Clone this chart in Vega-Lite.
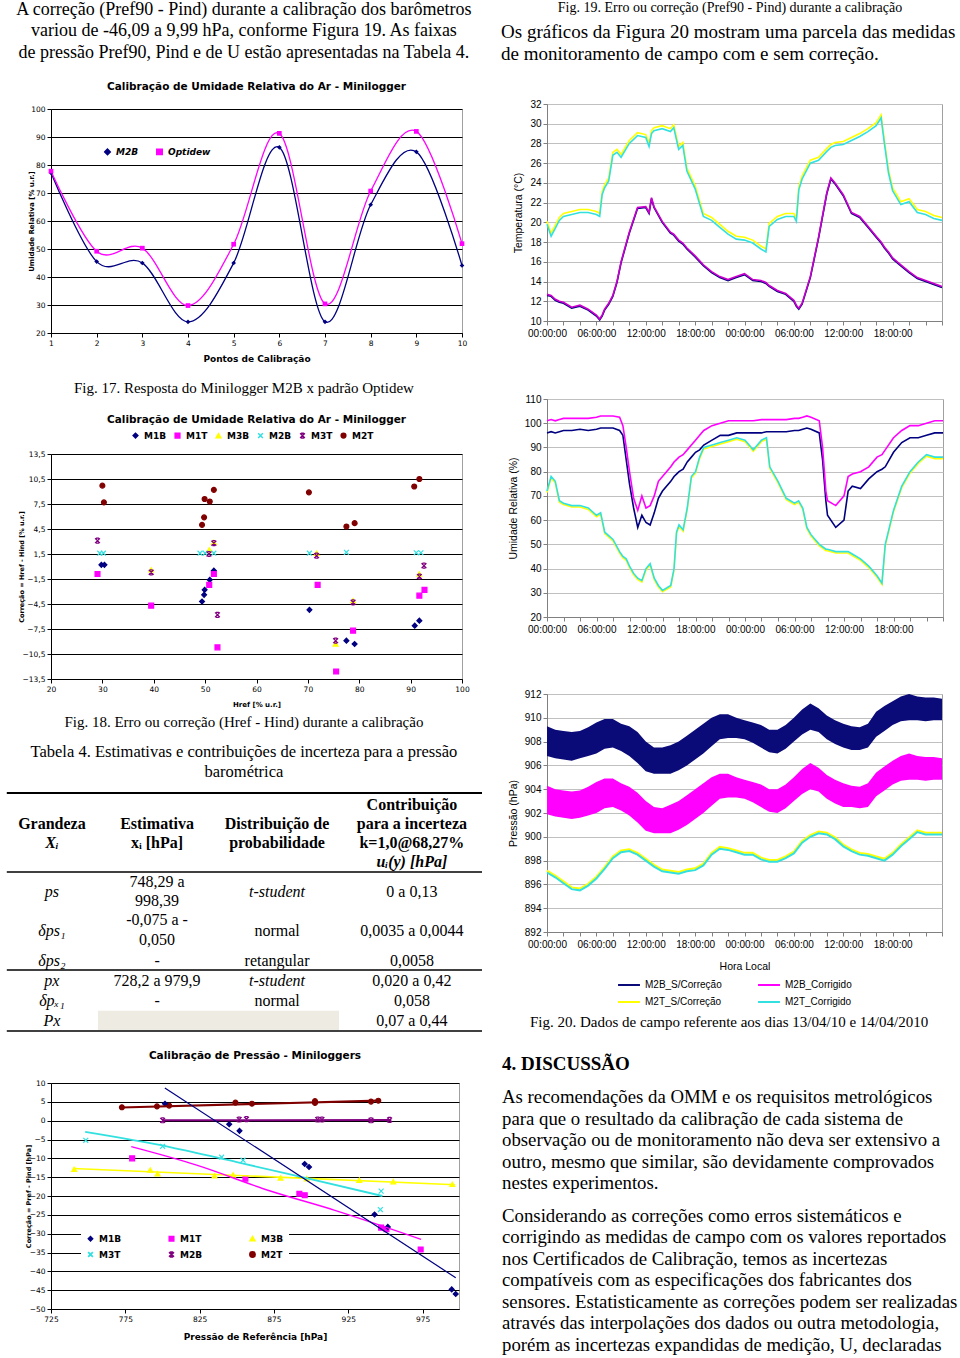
{
"$schema": "https://vega.github.io/schema/vega-lite/v6.json",
"padding": {"left": 5, "top": 0, "right": 0, "bottom": 0},
"background": "white",
"config": {"view": {"stroke": null}, "concat": {"spacing": 0}},
"spacing": 18,
"resolve": {"scale": {"color": "independent", "fill": "independent", "stroke": "independent", "shape": "independent", "strokeWidth": "independent", "size": "independent"}, "legend": {"color": "independent", "fill": "independent", "stroke": "independent", "shape": "independent", "strokeWidth": "independent", "size": "independent"}},
"hconcat": [
{"vconcat": [
 {"width": 431, "height": 109,
  "data": {"values": [
   {"line": 0, "text": "A correção (Pref90 - Pind) durante a calibração dos barômetros"},
   {"line": 1, "text": "variou de -46,09 a 9,99 hPa, conforme Figura 19. As faixas"},
   {"line": 2, "text": "de pressão Pref90, Pind e de U estão apresentadas na Tabela 4."}]},
  "mark": {"type": "text", "font": "Liberation Serif", "fontSize": 18, "align": "center", "baseline": "middle", "color": "#000"},
  "encoding": {
   "x": {"datum": 0.504, "type": "quantitative", "scale": {"domain": [0.1021, 1], "nice": false, "zero": false}, "axis": null},
   "y": {"field": "line", "type": "quantitative", "scale": {"domain": [-0.465, 4.605], "reverse": true, "nice": false, "zero": false}, "axis": null},
   "text": {"field": "text"}}},
 {"width": 411, "height": 224,
  "title": {"text": "Calibração de Umidade Relativa do Ar - Minilogger", "font": "DejaVu Sans", "fontSize": 10.5, "fontWeight": "bold", "offset": 13, "color": "#000"},
  "view": {"stroke": "#a0a0a0"},
  "data": {"values": [
   {"p": 1, "serie": "M2B", "v": 77.2}, {"p": 2, "serie": "M2B", "v": 45.5}, {"p": 3, "serie": "M2B", "v": 45.0}, {"p": 4, "serie": "M2B", "v": 24.0}, {"p": 5, "serie": "M2B", "v": 45.0},
   {"p": 6, "serie": "M2B", "v": 86.3}, {"p": 7, "serie": "M2B", "v": 24.0}, {"p": 8, "serie": "M2B", "v": 65.8}, {"p": 9, "serie": "M2B", "v": 84.7}, {"p": 10, "serie": "M2B", "v": 44.1},
   {"p": 1, "serie": "Optidew", "v": 77.8}, {"p": 2, "serie": "Optidew", "v": 49.2}, {"p": 3, "serie": "Optidew", "v": 50.3}, {"p": 4, "serie": "Optidew", "v": 29.8}, {"p": 5, "serie": "Optidew", "v": 51.7},
   {"p": 6, "serie": "Optidew", "v": 91.3}, {"p": 7, "serie": "Optidew", "v": 30.4}, {"p": 8, "serie": "Optidew", "v": 70.7}, {"p": 9, "serie": "Optidew", "v": 92.0}, {"p": 10, "serie": "Optidew", "v": 51.9}]},
  "encoding": {
   "x": {"field": "p", "type": "quantitative", "scale": {"domain": [1, 10], "nice": false, "zero": false},
    "axis": {"values": [1,2,3,4,5,6,7,8,9,10], "grid": false, "title": "Pontos de Calibração", "labelFont": "DejaVu Sans", "labelFontSize": 7.5, "labelColor": "#000", "labelFlush": false, "tickSize": 4, "tickColor": "#000", "domainColor": "#000", "titleFont": "DejaVu Sans", "titleFontSize": 9, "titleFontWeight": "bold", "titleColor": "#000", "titlePadding": 8}},
   "y": {"field": "v", "type": "quantitative", "scale": {"domain": [20, 100], "nice": false, "zero": false},
    "axis": {"values": [20,30,40,50,60,70,80,90,100], "grid": true, "gridColor": "#000", "gridOpacity": 1, "title": "Umidade Relativa [% u.r.]", "labelFont": "DejaVu Sans", "labelFontSize": 7.5, "labelColor": "#000", "tickSize": 4, "tickColor": "#000", "domainColor": "#000", "titleFont": "DejaVu Sans", "titleFontSize": 7, "titleColor": "#000", "titlePadding": -4}},
   "color": {"field": "serie", "type": "nominal", "scale": {"domain": ["M2B", "Optidew"], "range": ["#000080", "#ff00ff"]},
    "legend": {"orient": "none", "legendX": 52, "legendY": 38, "direction": "horizontal", "title": null, "labelFont": "DejaVu Sans", "labelFontSize": 9, "labelFontStyle": "italic", "labelFontWeight": "bold", "labelColor": "#000", "symbolSize": 30, "columnPadding": 14}}},
  "layer": [
   {"mark": {"type": "line", "interpolate": "cardinal", "strokeWidth": 1.3}},
   {"mark": {"type": "point", "filled": true, "opacity": 1, "size": 22},
    "encoding": {"shape": {"field": "serie", "type": "nominal", "scale": {"domain": ["M2B", "Optidew"], "range": ["diamond", "square"]},
     "legend": {"orient": "none", "legendX": 52, "legendY": 38, "direction": "horizontal", "title": null, "labelFont": "DejaVu Sans", "labelFontSize": 9, "labelFontStyle": "italic", "labelFontWeight": "bold", "labelColor": "#000", "symbolSize": 30, "columnPadding": 14}}}}]},
 {"width": 431, "height": 121,
  "data": {"values": [{"line": 0, "text": "Fig. 17. Resposta do Minilogger M2B x padrão Optidew"}]},
  "mark": {"type": "text", "font": "Liberation Serif", "fontSize": 15, "align": "center", "baseline": "middle", "color": "#000"},
  "encoding": {
   "x": {"datum": 0.504, "type": "quantitative", "scale": {"domain": [0.1021, 1], "nice": false, "zero": false}, "axis": null},
   "y": {"field": "line", "type": "quantitative", "scale": {"domain": [-2.558, 3.07], "reverse": true, "nice": false, "zero": false}, "axis": null},
   "text": {"field": "text"}}},
 {"width": 411, "height": 225,
  "title": {"text": "Calibração de Umidade Relativa do Ar - Minilogger", "font": "DejaVu Sans", "fontSize": 10.5, "fontWeight": "bold", "offset": 6, "color": "#000"},
  "view": {"stroke": "#a0a0a0"},
  "data": {"values": [
   {"s": "M1B", "x": 29.8, "y": 0.2}, {"s": "M1B", "x": 30.4, "y": 0.2}, {"s": "M1B", "x": 51.7, "y": -0.5}, {"s": "M1B", "x": 50.9, "y": -1.6}, {"s": "M1B", "x": 49.9, "y": -2.8}, {"s": "M1B", "x": 49.8, "y": -3.4}, {"s": "M1B", "x": 49.4, "y": -4.2}, {"s": "M1B", "x": 70.3, "y": -5.2}, {"s": "M1B", "x": 77.5, "y": -8.9}, {"s": "M1B", "x": 79.1, "y": -9.3}, {"s": "M1B", "x": 90.8, "y": -7.1}, {"s": "M1B", "x": 91.7, "y": -6.5},
   {"s": "M1T", "x": 29.05, "y": -0.9}, {"s": "M1T", "x": 39.5, "y": -4.7}, {"s": "M1T", "x": 51.7, "y": -0.9}, {"s": "M1T", "x": 50.8, "y": -2.2}, {"s": "M1T", "x": 52.4, "y": -9.7}, {"s": "M1T", "x": 71.9, "y": -2.2}, {"s": "M1T", "x": 78.8, "y": -7.7}, {"s": "M1T", "x": 75.5, "y": -12.6}, {"s": "M1T", "x": 91.7, "y": -3.5}, {"s": "M1T", "x": 92.7, "y": -2.8},
   {"s": "M3B", "x": 39.5, "y": -0.4}, {"s": "M3B", "x": 50.8, "y": 2.0}, {"s": "M3B", "x": 51.7, "y": 2.9}, {"s": "M3B", "x": 71.7, "y": 1.6}, {"s": "M3B", "x": 78.8, "y": -4.1}, {"s": "M3B", "x": 75.4, "y": -9.3}, {"s": "M3B", "x": 91.7, "y": -0.9},
   {"s": "M2B", "x": 29.5, "y": 1.6}, {"s": "M2B", "x": 30.2, "y": 1.6}, {"s": "M2B", "x": 49.0, "y": 1.6}, {"s": "M2B", "x": 50.0, "y": 1.6}, {"s": "M2B", "x": 51.7, "y": 1.6}, {"s": "M2B", "x": 70.3, "y": 1.6}, {"s": "M2B", "x": 77.5, "y": 1.7}, {"s": "M2B", "x": 91.1, "y": 1.65}, {"s": "M2B", "x": 92.0, "y": 1.65},
   {"s": "M3T", "x": 29.05, "y": 3.1}, {"s": "M3T", "x": 39.5, "y": -0.7}, {"s": "M3T", "x": 51.7, "y": 2.8}, {"s": "M3T", "x": 50.75, "y": 1.5}, {"s": "M3T", "x": 52.4, "y": -5.8}, {"s": "M3T", "x": 71.7, "y": 1.3}, {"s": "M3T", "x": 78.8, "y": -4.3}, {"s": "M3T", "x": 75.4, "y": -8.9}, {"s": "M3T", "x": 92.6, "y": 0.1}, {"s": "M3T", "x": 91.7, "y": -1.2},
   {"s": "M2T", "x": 30.0, "y": 9.7}, {"s": "M2T", "x": 30.3, "y": 7.7}, {"s": "M2T", "x": 49.9, "y": 8.1}, {"s": "M2T", "x": 50.9, "y": 7.8}, {"s": "M2T", "x": 51.7, "y": 9.2}, {"s": "M2T", "x": 49.8, "y": 5.9}, {"s": "M2T", "x": 49.4, "y": 5.0}, {"s": "M2T", "x": 70.2, "y": 8.9}, {"s": "M2T", "x": 77.5, "y": 4.8}, {"s": "M2T", "x": 79.1, "y": 5.2}, {"s": "M2T", "x": 90.7, "y": 9.6}, {"s": "M2T", "x": 91.7, "y": 10.5}]},
  "mark": {"type": "point", "opacity": 1, "size": 24, "strokeWidth": 1.2},
  "encoding": {
   "x": {"field": "x", "type": "quantitative", "scale": {"domain": [20, 100], "nice": false, "zero": false},
    "axis": {"values": [20,30,40,50,60,70,80,90,100], "grid": false, "title": "Href [% u.r.]", "labelFont": "DejaVu Sans", "labelFontSize": 7.5, "labelColor": "#000", "labelFlush": false, "tickSize": 4, "tickColor": "#000", "domainColor": "#000", "titleFont": "DejaVu Sans", "titleFontSize": 7, "titleFontWeight": "bold", "titleColor": "#000", "titlePadding": 8}},
   "y": {"field": "y", "type": "quantitative", "scale": {"domain": [-13.5, 13.5], "nice": false, "zero": false},
    "axis": {"values": [-13.5,-10.5,-7.5,-4.5,-1.5,1.5,4.5,7.5,10.5,13.5], "labelExpr": "replace(format(datum.value, '.1f'), '.', ',')", "grid": true, "gridColor": "#000", "gridOpacity": 1, "title": "Correção = Href - Hind [% u.r.]", "labelFont": "DejaVu Sans", "labelFontSize": 7.5, "labelColor": "#000", "tickSize": 4, "tickColor": "#000", "domainColor": "#000", "titleFont": "DejaVu Sans", "titleFontSize": 6.5, "titleColor": "#000", "titlePadding": -2}},
   "fill": {"field": "s", "type": "nominal", "scale": {"domain": ["M1B","M1T","M3B","M2B","M3T","M2T"], "range": ["#000080","#ff00ff","#ffff00","#33e0e0","#800080","#800000"]},
    "legend": {"orient": "none", "legendX": 80, "legendY": -23, "direction": "horizontal", "title": null, "labelFont": "DejaVu Sans", "labelFontSize": 9, "labelFontWeight": "bold", "labelColor": "#000", "symbolSize": 22, "columnPadding": 5}},
   "stroke": {"field": "s", "type": "nominal", "scale": {"domain": ["M1B","M1T","M3B","M2B","M3T","M2T"], "range": ["#000080","#ff00ff","#ffff00","#33e0e0","#800080","#800000"]},
    "legend": {"orient": "none", "legendX": 80, "legendY": -23, "direction": "horizontal", "title": null, "labelFont": "DejaVu Sans", "labelFontSize": 9, "labelFontWeight": "bold", "labelColor": "#000", "symbolSize": 22, "columnPadding": 5}},
   "shape": {"field": "s", "type": "nominal", "scale": {"domain": ["M1B","M1T","M3B","M2B","M3T","M2T"], "range": ["diamond","square","triangle-up","M-1,-1L1,1M1,-1L-1,1","M-1,-1L1,1M1,-1L-1,1M-0.6,-1L0.6,-1M-0.6,1L0.6,1","circle"]},
    "legend": {"orient": "none", "legendX": 80, "legendY": -23, "direction": "horizontal", "title": null, "labelFont": "DejaVu Sans", "labelFontSize": 9, "labelFontWeight": "bold", "labelColor": "#000", "symbolSize": 22, "columnPadding": 5}}}},
 {"width": 431, "height": 111,
  "data": {"values": [
   {"line": 0, "size": 15, "text": "Fig. 18. Erro ou correção (Href - Hind) durante a calibração"},
   {"line": 1.5, "size": 16.5, "text": "Tabela 4. Estimativas e contribuições de incerteza para a pressão"},
   {"line": 2.5, "size": 16.5, "text": "barométrica"}]},
  "mark": {"type": "text", "font": "Liberation Serif", "align": "center", "baseline": "middle", "color": "#000"},
  "encoding": {
   "x": {"datum": 0.504, "type": "quantitative", "scale": {"domain": [0.1021, 1], "nice": false, "zero": false}, "axis": null},
   "y": {"field": "line", "type": "quantitative", "scale": {"domain": [-2.15, 3.4], "reverse": true, "nice": false, "zero": false}, "axis": null},
   "size": {"field": "size", "type": "quantitative", "scale": null, "legend": null},
   "text": {"field": "text"}}},
 {"width": 431, "height": 293,
  "encoding": {
   "x": {"field": "pos", "type": "quantitative", "scale": {"domain": [0.1021, 1], "nice": false, "zero": false}, "axis": null},
   "y": {"field": "line", "type": "quantitative", "scale": {"domain": [0, 15.03], "reverse": true, "nice": false, "zero": false}, "axis": null}},
  "layer": [
   {"data": {"values": [{"pos": 0.2, "pos2": 0.702, "line": 11.33, "line2": 12.31}]},
    "mark": {"type": "rect", "color": "#eeebe2"},
    "encoding": {"x2": {"field": "pos2"}, "y2": {"field": "line2"}}},
   {"data": {"values": [{"pos": 0.01, "pos2": 1, "line": 0.15, "w": 2}, {"pos": 0.01, "pos2": 1, "line": 4.21, "w": 1.5}, {"pos": 0.01, "pos2": 1, "line": 9.23, "w": 1.5}, {"pos": 0.01, "pos2": 1, "line": 12.36, "w": 1.5}]},
    "mark": {"type": "rule", "color": "#000"},
    "encoding": {"x2": {"field": "pos2"}, "strokeWidth": {"field": "w", "type": "quantitative", "scale": null, "legend": null}}},
   {"data": {"name": "tabela", "values": [
     {"s": "h", "pos": 0.854, "line": 0.77, "text": "Contribuição"},
     {"s": "h", "pos": 0.854, "line": 1.74, "text": "para a incerteza"},
     {"s": "h", "pos": 0.854, "line": 2.72, "text": "k=1,0@68,27%"},
     {"s": "hi", "pos": 0.854, "line": 3.69, "text": "uᵢ(y) [hPa]"},
     {"s": "h", "pos": 0.104, "line": 1.74, "text": "Grandeza"},
     {"s": "hi", "pos": 0.104, "line": 2.72, "text": "Xᵢ"},
     {"s": "h", "pos": 0.323, "line": 1.74, "text": "Estimativa"},
     {"s": "h", "pos": 0.323, "line": 2.72, "text": "xᵢ [hPa]"},
     {"s": "h", "pos": 0.573, "line": 1.74, "text": "Distribuição de"},
     {"s": "h", "pos": 0.573, "line": 2.72, "text": "probabilidade"},
     {"s": "i", "pos": 0.104, "line": 5.23, "text": "ps"},
     {"s": "n", "pos": 0.323, "line": 4.72, "text": "748,29 a"},
     {"s": "n", "pos": 0.323, "line": 5.69, "text": "998,39"},
     {"s": "i", "pos": 0.573, "line": 5.23, "text": "t-student"},
     {"s": "n", "pos": 0.854, "line": 5.23, "text": "0 a 0,13"},
     {"s": "i", "pos": 0.104, "line": 7.23, "text": "δps₁"},
     {"s": "n", "pos": 0.323, "line": 6.67, "text": "-0,075 a -"},
     {"s": "n", "pos": 0.323, "line": 7.69, "text": "0,050"},
     {"s": "n", "pos": 0.573, "line": 7.23, "text": "normal"},
     {"s": "n", "pos": 0.854, "line": 7.23, "text": "0,0035 a 0,0044"},
     {"s": "i", "pos": 0.104, "line": 8.77, "text": "δps₂"},
     {"s": "n", "pos": 0.323, "line": 8.77, "text": "-"},
     {"s": "n", "pos": 0.573, "line": 8.77, "text": "retangular"},
     {"s": "n", "pos": 0.854, "line": 8.77, "text": "0,0058"},
     {"s": "i", "pos": 0.104, "line": 9.79, "text": "px"},
     {"s": "n", "pos": 0.323, "line": 9.79, "text": "728,2 a 979,9"},
     {"s": "i", "pos": 0.573, "line": 9.79, "text": "t-student"},
     {"s": "n", "pos": 0.854, "line": 9.79, "text": "0,020 a 0,42"},
     {"s": "i", "pos": 0.104, "line": 10.82, "text": "δpₓ₁"},
     {"s": "n", "pos": 0.323, "line": 10.82, "text": "-"},
     {"s": "n", "pos": 0.573, "line": 10.82, "text": "normal"},
     {"s": "n", "pos": 0.854, "line": 10.82, "text": "0,058"},
     {"s": "i", "pos": 0.104, "line": 11.85, "text": "Px"},
     {"s": "n", "pos": 0.854, "line": 11.85, "text": "0,07 a 0,44"}]},
    "transform": [{"filter": "datum.s == 'h'"}],
    "mark": {"type": "text", "font": "Liberation Serif", "fontSize": 16, "fontWeight": "bold", "align": "center", "baseline": "middle", "color": "#000"},
    "encoding": {"text": {"field": "text"}}},
   {"data": {"name": "tabela"},
    "transform": [{"filter": "datum.s == 'hi'"}],
    "mark": {"type": "text", "font": "Liberation Serif", "fontSize": 16, "fontWeight": "bold", "fontStyle": "italic", "align": "center", "baseline": "middle", "color": "#000"},
    "encoding": {"text": {"field": "text"}}},
   {"data": {"name": "tabela"},
    "transform": [{"filter": "datum.s == 'i'"}],
    "mark": {"type": "text", "font": "Liberation Serif", "fontSize": 16, "fontStyle": "italic", "align": "center", "baseline": "middle", "color": "#000"},
    "encoding": {"text": {"field": "text"}}},
   {"data": {"name": "tabela"},
    "transform": [{"filter": "datum.s == 'n'"}],
    "mark": {"type": "text", "font": "Liberation Serif", "fontSize": 16, "align": "center", "baseline": "middle", "color": "#000"},
    "encoding": {"text": {"field": "text"}}}]},
 {"width": 408, "height": 226,
  "title": {"text": "Calibração de Pressão - Miniloggers", "font": "DejaVu Sans", "fontSize": 10.5, "fontWeight": "bold", "offset": 18, "color": "#000"},
  "view": {"stroke": "#a0a0a0"},
  "encoding": {
   "x": {"field": "x", "type": "quantitative", "scale": {"domain": [725, 999.5], "nice": false, "zero": false},
    "axis": {"values": [725,775,825,875,925,975], "grid": false, "title": "Pressão de Referência [hPa]", "labelFont": "DejaVu Sans", "labelFontSize": 7.5, "labelColor": "#000", "labelFlush": false, "tickSize": 4, "tickColor": "#000", "domainColor": "#000", "titleFont": "DejaVu Sans", "titleFontSize": 9, "titleFontWeight": "bold", "titleColor": "#000", "titlePadding": 10}},
   "y": {"field": "y", "type": "quantitative", "scale": {"domain": [-50, 10], "nice": false, "zero": false},
    "axis": {"values": [-50,-45,-40,-35,-30,-25,-20,-15,-10,-5,0,5,10], "grid": true, "gridColor": "#000", "gridOpacity": 1, "title": "Correção = Pref - Pind [hPa]", "labelFont": "DejaVu Sans", "labelFontSize": 7.5, "labelColor": "#000", "tickSize": 4, "tickColor": "#000", "domainColor": "#000", "titleFont": "DejaVu Sans", "titleFontSize": 6.5, "titleColor": "#000", "titlePadding": -2}}},
  "layer": [
   {"data": {"values": [
     {"s": "M3B", "x": 740.6, "y": -12.9}, {"s": "M3B", "x": 791.8, "y": -13.1}, {"s": "M3B", "x": 796.7, "y": -14.1}, {"s": "M3B", "x": 835.0, "y": -14.6}, {"s": "M3B", "x": 847.5, "y": -14.4}, {"s": "M3B", "x": 879.4, "y": -15.2}, {"s": "M3B", "x": 897.0, "y": -15.4}, {"s": "M3B", "x": 932.4, "y": -15.8}, {"s": "M3B", "x": 955.3, "y": -16.2}, {"s": "M3B", "x": 995.0, "y": -16.9},
     {"s": "M3T", "x": 748.4, "y": -5.2}, {"s": "M3T", "x": 800.1, "y": -6.8}, {"s": "M3T", "x": 839.8, "y": -9.7}, {"s": "M3T", "x": 854.2, "y": -10.5}, {"s": "M3T", "x": 947.1, "y": -18.7}, {"s": "M3T", "x": 946.6, "y": -23.6},
     {"s": "M1T", "x": 779.6, "y": -10.0}, {"s": "M1T", "x": 855.8, "y": -15.4}, {"s": "M1T", "x": 892.1, "y": -19.4}, {"s": "M1T", "x": 895.7, "y": -19.8}, {"s": "M1T", "x": 947.1, "y": -28.4}, {"s": "M1T", "x": 950.7, "y": -28.8}, {"s": "M1T", "x": 973.7, "y": -34.2},
     {"s": "M2B", "x": 800.1, "y": 0.1}, {"s": "M2B", "x": 851.6, "y": 0.3}, {"s": "M2B", "x": 856.5, "y": 0.4}, {"s": "M2B", "x": 904.4, "y": 0.3}, {"s": "M2B", "x": 907.3, "y": 0.3}, {"s": "M2B", "x": 940.3, "y": 0.1}, {"s": "M2B", "x": 952.8, "y": 0.2},
     {"s": "M2T", "x": 772.7, "y": 3.55}, {"s": "M2T", "x": 796.3, "y": 3.8}, {"s": "M2T", "x": 804.5, "y": 4.0}, {"s": "M2T", "x": 849.1, "y": 4.8}, {"s": "M2T", "x": 860.2, "y": 4.5}, {"s": "M2T", "x": 902.6, "y": 5.2}, {"s": "M2T", "x": 902.6, "y": 4.7}, {"s": "M2T", "x": 940.3, "y": 5.05}, {"s": "M2T", "x": 945.2, "y": 5.3},
     {"s": "M1B", "x": 801.7, "y": 4.5}, {"s": "M1B", "x": 844.9, "y": -0.95}, {"s": "M1B", "x": 851.8, "y": -2.7}, {"s": "M1B", "x": 895.7, "y": -11.5}, {"s": "M1B", "x": 898.6, "y": -12.3}, {"s": "M1B", "x": 942.7, "y": -24.9}, {"s": "M1B", "x": 951.6, "y": -28.2}, {"s": "M1B", "x": 994.6, "y": -44.8}, {"s": "M1B", "x": 997.3, "y": -46.0}]},
    "mark": {"type": "point", "opacity": 1, "size": 24, "strokeWidth": 1.2},
    "encoding": {
     "fill": {"field": "s", "type": "nominal", "scale": {"domain": ["M1B","M1T","M3B","M3T","M2B","M2T"], "range": ["#000080","#ff00ff","#ffff00","#33e0e0","#800080","#800000"]},
      "legend": {"orient": "none", "legendX": 30, "legendY": 145, "direction": "horizontal", "columns": 3, "gridAlign": "all", "title": null, "fillColor": "white", "padding": 5, "labelFont": "DejaVu Sans", "labelFontSize": 9, "labelFontWeight": "bold", "labelColor": "#000", "symbolSize": 22, "columnPadding": 42, "rowPadding": 2}},
     "stroke": {"field": "s", "type": "nominal", "scale": {"domain": ["M1B","M1T","M3B","M3T","M2B","M2T"], "range": ["#000080","#ff00ff","#ffff00","#33e0e0","#800080","#800000"]},
      "legend": {"orient": "none", "legendX": 30, "legendY": 145, "direction": "horizontal", "columns": 3, "gridAlign": "all", "title": null, "fillColor": "white", "padding": 5, "labelFont": "DejaVu Sans", "labelFontSize": 9, "labelFontWeight": "bold", "labelColor": "#000", "symbolSize": 22, "columnPadding": 42, "rowPadding": 2}},
     "shape": {"field": "s", "type": "nominal", "scale": {"domain": ["M1B","M1T","M3B","M3T","M2B","M2T"], "range": ["diamond","square","triangle-up","M-1,-1L1,1M1,-1L-1,1","M-1,-1L1,1M1,-1L-1,1M-0.6,-1L0.6,-1M-0.6,1L0.6,1","circle"]},
      "legend": {"orient": "none", "legendX": 30, "legendY": 145, "direction": "horizontal", "columns": 3, "gridAlign": "all", "title": null, "fillColor": "white", "padding": 5, "labelFont": "DejaVu Sans", "labelFontSize": 9, "labelFontWeight": "bold", "labelColor": "#000", "symbolSize": 22, "columnPadding": 42, "rowPadding": 2}}}},
   {"data": {"values": [
     {"s": "M3B", "x": 739.9, "y": -12.7}, {"s": "M3B", "x": 996.8, "y": -17.0},
     {"s": "M3T", "x": 748, "y": -3.0}, {"s": "M3T", "x": 805, "y": -7.0}, {"s": "M3T", "x": 850, "y": -11.0}, {"s": "M3T", "x": 894, "y": -15.0}, {"s": "M3T", "x": 948, "y": -20.0},
     {"s": "M1T", "x": 779, "y": -6.9}, {"s": "M1T", "x": 823, "y": -11.8}, {"s": "M1T", "x": 872, "y": -18.6}, {"s": "M1T", "x": 916, "y": -23.8}, {"s": "M1T", "x": 974, "y": -31.5},
     {"s": "M2B", "x": 800, "y": 0.1}, {"s": "M2B", "x": 954, "y": 0.2},
     {"s": "M2T", "x": 772.2, "y": 3.5}, {"s": "M2T", "x": 945.6, "y": 5.3},
     {"s": "M1B", "x": 801.6, "y": 8.7}, {"s": "M1B", "x": 997.3, "y": -41.7}]},
    "mark": {"type": "line", "interpolate": "monotone"},
    "encoding": {
     "stroke": {"field": "s", "type": "nominal", "legend": null},
     "strokeWidth": {"field": "s", "type": "nominal", "scale": {"domain": ["M1B","M1T","M3B","M3T","M2B","M2T"], "range": [1.2, 2.2, 2.2, 2.6, 2, 2]}, "legend": null}}}]}
], "spacing": 0, "bounds": "flush",
 "resolve": {"scale": {"color": "independent", "fill": "independent", "stroke": "independent", "shape": "independent", "strokeWidth": "independent", "size": "independent"}, "legend": {"color": "independent", "fill": "independent", "stroke": "independent", "shape": "independent", "strokeWidth": "independent", "size": "independent"}}},
{"vconcat": [
 {"width": 412, "height": 104,
  "data": {"values": [
   {"line": 0, "pos": 0.523, "size": 14, "align": "c", "text": "Fig. 19. Erro ou correção (Pref90 - Pind) durante a calibração"},
   {"line": 1.09, "pos": 0.046, "size": 19, "align": "l", "text": "Os gráficos da Figura 20 mostram uma parcela das medidas"},
   {"line": 2.09, "pos": 0.046, "size": 19, "align": "l", "text": "de monitoramento de campo com e sem correção."}]},
  "encoding": {
   "x": {"field": "pos", "type": "quantitative", "scale": {"domain": [0.1417, 1], "nice": false, "zero": false}, "axis": null},
   "y": {"field": "line", "type": "quantitative", "scale": {"domain": [-0.364, 4.364], "reverse": true, "nice": false, "zero": false}, "axis": null},
   "size": {"field": "size", "type": "quantitative", "scale": null, "legend": null},
   "text": {"field": "text"}},
  "layer": [
   {"transform": [{"filter": "datum.align == 'c'"}], "mark": {"type": "text", "font": "Liberation Serif", "align": "center", "baseline": "middle", "color": "#000"}},
   {"transform": [{"filter": "datum.align == 'l'"}], "mark": {"type": "text", "font": "Liberation Serif", "align": "left", "baseline": "middle", "color": "#000"}}]},
 {"width": 395, "height": 217,
  "view": {"stroke": "#a0a0a0"},
  "data": {"values": [
   {"h": 0, "a": 12.6, "b": 12.7, "c": 20.1, "d": 19.8}, {"h": 0.5, "a": 12.5, "b": 12.6, "c": 18.9, "d": 18.6}, {"h": 1, "a": 12.1, "b": 12.2, "c": 19.7, "d": 19.4}, {"h": 1.5, "a": 11.9, "b": 12.0, "c": 20.5, "d": 20.2},
   {"h": 2, "a": 11.8, "b": 11.9, "c": 20.9, "d": 20.6}, {"h": 3, "a": 11.3, "b": 11.4, "c": 21.1, "d": 20.8}, {"h": 4, "a": 11.5, "b": 11.6, "c": 21.3, "d": 21.0}, {"h": 5, "a": 11.1, "b": 11.2, "c": 21.3, "d": 21.0},
   {"h": 6, "a": 10.5, "b": 10.6, "c": 21.1, "d": 20.8}, {"h": 6.4, "a": 10.1, "b": 10.2, "c": 20.9, "d": 20.6}, {"h": 6.7, "a": 10.5, "b": 10.6, "c": 23.1, "d": 22.8}, {"h": 7, "a": 11.1, "b": 11.2, "c": 23.8, "d": 23.5},
   {"h": 7.5, "a": 11.7, "b": 11.8, "c": 24.5, "d": 24.2}, {"h": 8, "a": 12.5, "b": 12.6, "c": 27.1, "d": 26.8}, {"h": 8.5, "a": 13.9, "b": 14.0, "c": 27.4, "d": 27.1}, {"h": 9, "a": 15.9, "b": 16.0, "c": 26.9, "d": 26.6},
   {"h": 10, "a": 18.9, "b": 19.0, "c": 28.3, "d": 28.0}, {"h": 11, "a": 21.4, "b": 21.5, "c": 29.1, "d": 28.8}, {"h": 12, "a": 21.5, "b": 21.6, "c": 28.9, "d": 28.6}, {"h": 12.4, "a": 20.9, "b": 21.0, "c": 28.0, "d": 27.7},
   {"h": 12.7, "a": 22.4, "b": 22.5, "c": 29.3, "d": 29.0}, {"h": 13, "a": 21.5, "b": 21.6, "c": 29.6, "d": 29.3}, {"h": 14, "a": 20.0, "b": 20.1, "c": 29.8, "d": 29.5}, {"h": 15, "a": 18.9, "b": 19.0, "c": 29.5, "d": 29.2},
   {"h": 15.4, "a": 18.7, "b": 18.8, "c": 29.9, "d": 29.6}, {"h": 16, "a": 18.1, "b": 18.2, "c": 27.7, "d": 27.4}, {"h": 16.5, "a": 17.8, "b": 17.9, "c": 28.1, "d": 27.8}, {"h": 17, "a": 17.3, "b": 17.4, "c": 25.5, "d": 25.2},
   {"h": 18, "a": 16.5, "b": 16.6, "c": 23.7, "d": 23.4}, {"h": 19, "a": 15.6, "b": 15.7, "c": 20.9, "d": 20.6}, {"h": 20, "a": 14.9, "b": 15.0, "c": 20.5, "d": 20.2}, {"h": 21, "a": 14.4, "b": 14.5, "c": 19.8, "d": 19.5},
   {"h": 22, "a": 14.1, "b": 14.2, "c": 19.1, "d": 18.8}, {"h": 23, "a": 14.4, "b": 14.5, "c": 18.6, "d": 18.3}, {"h": 24, "a": 14.7, "b": 14.8, "c": 18.5, "d": 18.2}, {"h": 25, "a": 14.1, "b": 14.2, "c": 18.2, "d": 17.9},
   {"h": 26, "a": 14.0, "b": 14.1, "c": 17.6, "d": 17.3}, {"h": 26.6, "a": 13.8, "b": 13.9, "c": 17.3, "d": 17.0}, {"h": 27, "a": 13.5, "b": 13.6, "c": 19.9, "d": 19.6}, {"h": 28, "a": 13.0, "b": 13.1, "c": 20.6, "d": 20.3},
   {"h": 29, "a": 12.7, "b": 12.8, "c": 20.9, "d": 20.6}, {"h": 30, "a": 12.0, "b": 12.1, "c": 20.9, "d": 20.6}, {"h": 30.3, "a": 11.5, "b": 11.6, "c": 20.4, "d": 20.1}, {"h": 30.6, "a": 11.2, "b": 11.3, "c": 23.6, "d": 23.3},
   {"h": 31, "a": 11.7, "b": 11.8, "c": 24.7, "d": 24.4}, {"h": 32, "a": 14.4, "b": 14.5, "c": 26.3, "d": 26.0}, {"h": 33, "a": 18.4, "b": 18.5, "c": 26.6, "d": 26.3}, {"h": 34, "a": 22.9, "b": 23.0, "c": 27.5, "d": 27.2},
   {"h": 34.5, "a": 24.4, "b": 24.5, "c": 27.9, "d": 27.6}, {"h": 35, "a": 23.9, "b": 24.0, "c": 28.1, "d": 27.8}, {"h": 36, "a": 22.7, "b": 22.8, "c": 28.2, "d": 27.9}, {"h": 37, "a": 20.9, "b": 21.0, "c": 28.6, "d": 28.3},
   {"h": 38, "a": 20.5, "b": 20.6, "c": 29.0, "d": 28.7}, {"h": 39, "a": 19.5, "b": 19.6, "c": 29.5, "d": 29.2}, {"h": 40, "a": 18.5, "b": 18.6, "c": 30.1, "d": 29.8}, {"h": 40.6, "a": 17.9, "b": 18.0, "c": 30.9, "d": 30.6},
   {"h": 41, "a": 17.4, "b": 17.5, "c": 28.3, "d": 28.0}, {"h": 41.5, "a": 16.9, "b": 17.0, "c": 25.3, "d": 25.0}, {"h": 42, "a": 16.3, "b": 16.4, "c": 23.5, "d": 23.2}, {"h": 43, "a": 15.6, "b": 15.7, "c": 22.1, "d": 21.8},
   {"h": 44, "a": 14.9, "b": 15.0, "c": 22.4, "d": 22.1}, {"h": 45, "a": 14.3, "b": 14.4, "c": 21.3, "d": 21.0}, {"h": 46, "a": 14.0, "b": 14.1, "c": 21.1, "d": 20.8}, {"h": 47, "a": 13.7, "b": 13.8, "c": 20.7, "d": 20.4},
   {"h": 48, "a": 13.4, "b": 13.5, "c": 20.5, "d": 20.2}]},
  "transform": [{"fold": ["a", "b", "c", "d"], "as": ["serie", "val"]}],
  "mark": {"type": "line", "strokeWidth": 1.6},
  "encoding": {
   "x": {"field": "h", "type": "quantitative", "scale": {"domain": [0, 48], "nice": false, "zero": false},
    "axis": {"values": [0,2,4,6,8,10,12,14,16,18,20,22,24,26,28,30,32,34,36,38,40,42,44,46,48], "labelExpr": "datum.value % 6 == 0 && datum.value < 48 ? ((datum.value % 24) < 10 ? '0' : '') + (datum.value % 24) + ':00:00' : ''", "labelOverlap": false, "labelFlush": false, "grid": false, "title": null, "labelFont": "Liberation Sans", "labelFontSize": 10, "labelColor": "#000", "tickSize": 4, "tickColor": "#808080", "domainColor": "#808080", "labelPadding": 3}},
   "y": {"field": "val", "type": "quantitative", "scale": {"domain": [10, 32], "nice": false, "zero": false},
    "axis": {"values": [10,12,14,16,18,20,22,24,26,28,30,32], "grid": true, "gridColor": "#c0c0c0", "title": "Temperatura (°C)", "labelFont": "Liberation Sans", "labelFontSize": 10, "labelColor": "#000", "tickSize": 4, "tickColor": "#808080", "domainColor": "#808080", "titleFont": "Liberation Sans", "titleFontSize": 10.5, "titleFontWeight": "normal", "titleColor": "#000", "titlePadding": 6}},
   "color": {"field": "serie", "type": "nominal", "scale": {"domain": ["a", "b", "c", "d"], "range": ["#000080", "#cc00cc", "#ffff00", "#33e0e0"]}, "legend": null}}},
 {"width": 412, "height": 78, "data": {"values": [{}]}, "mark": "text", "encoding": {"text": {"value": ""}}},
 {"width": 396, "height": 218,
  "view": {"stroke": "#a0a0a0"},
  "data": {"values": [
   {"h": 0, "a": 96, "b": 101, "c": 71.4, "d": 72}, {"h": 0.5, "a": 96.5, "b": 101.5, "c": 77.4, "d": 78}, {"h": 1, "a": 96, "b": 101, "c": 75.4, "d": 76}, {"h": 1.5, "a": 96.5, "b": 101.5, "c": 67.4, "d": 68},
   {"h": 2, "a": 97, "b": 102, "c": 66.4, "d": 67}, {"h": 3, "a": 97, "b": 102, "c": 65.4, "d": 66}, {"h": 4, "a": 97.5, "b": 102, "c": 65.4, "d": 66}, {"h": 5, "a": 97, "b": 102, "c": 64.4, "d": 65},
   {"h": 6, "a": 97.5, "b": 102.5, "c": 61.4, "d": 62}, {"h": 6.5, "a": 98, "b": 103, "c": 62.4, "d": 63}, {"h": 7, "a": 98, "b": 103, "c": 54.4, "d": 55}, {"h": 8, "a": 98, "b": 103, "c": 51.4, "d": 52},
   {"h": 8.8, "a": 97, "b": 102.5, "c": 46.4, "d": 47}, {"h": 9.2, "a": 95, "b": 99, "c": 44.4, "d": 45}, {"h": 9.6, "a": 85, "b": 90, "c": 43.4, "d": 44}, {"h": 10, "a": 75, "b": 80, "c": 40.4, "d": 41},
   {"h": 10.5, "a": 65, "b": 69, "c": 37.4, "d": 38}, {"h": 11, "a": 57, "b": 64, "c": 35.4, "d": 36}, {"h": 11.5, "a": 62, "b": 70, "c": 34.4, "d": 35}, {"h": 12, "a": 59, "b": 65, "c": 39.4, "d": 40},
   {"h": 12.5, "a": 58, "b": 66, "c": 41.4, "d": 42}, {"h": 13, "a": 63, "b": 70, "c": 35.4, "d": 36}, {"h": 13.5, "a": 69, "b": 76, "c": 32.4, "d": 33}, {"h": 14, "a": 72, "b": 78, "c": 30.4, "d": 31},
   {"h": 15, "a": 76, "b": 82, "c": 32.4, "d": 33}, {"h": 15.4, "a": 78, "b": 84, "c": 39.4, "d": 40}, {"h": 15.7, "a": 79, "b": 85, "c": 54.4, "d": 55}, {"h": 16, "a": 80, "b": 86, "c": 57.4, "d": 58},
   {"h": 16.5, "a": 81, "b": 87, "c": 55.4, "d": 56}, {"h": 17, "a": 84, "b": 89, "c": 64.4, "d": 65}, {"h": 17.5, "a": 86, "b": 91, "c": 77.4, "d": 78}, {"h": 18, "a": 88, "b": 93, "c": 79.4, "d": 80},
   {"h": 18.5, "a": 89, "b": 95, "c": 85.4, "d": 86}, {"h": 19, "a": 91, "b": 97, "c": 89.4, "d": 90}, {"h": 20, "a": 93, "b": 99, "c": 90.4, "d": 91}, {"h": 21, "a": 95, "b": 100, "c": 91.4, "d": 92},
   {"h": 22, "a": 95, "b": 101, "c": 92.4, "d": 93}, {"h": 23, "a": 96, "b": 101, "c": 93.4, "d": 94}, {"h": 24, "a": 96, "b": 101, "c": 92.4, "d": 93}, {"h": 25, "a": 96, "b": 101, "c": 88.4, "d": 89},
   {"h": 26, "a": 96, "b": 101.5, "c": 92.4, "d": 93}, {"h": 26.6, "a": 96.5, "b": 101.5, "c": 93.4, "d": 94}, {"h": 27, "a": 96.5, "b": 101.5, "c": 81.4, "d": 82}, {"h": 28, "a": 96.5, "b": 101.5, "c": 75.4, "d": 76},
   {"h": 29, "a": 96.5, "b": 101.5, "c": 68.4, "d": 69}, {"h": 30, "a": 97, "b": 102, "c": 66.4, "d": 67}, {"h": 30.5, "a": 97, "b": 102, "c": 67.4, "d": 68}, {"h": 31, "a": 97.5, "b": 102.5, "c": 64.4, "d": 65},
   {"h": 31.5, "a": 98, "b": 103, "c": 56.4, "d": 57}, {"h": 32, "a": 97.5, "b": 102.5, "c": 53.4, "d": 54}, {"h": 33, "a": 96, "b": 101, "c": 49.4, "d": 50}, {"h": 33.4, "a": 85, "b": 90, "c": 48.4, "d": 49},
   {"h": 33.8, "a": 68, "b": 72, "c": 47.4, "d": 48}, {"h": 34, "a": 62, "b": 68, "c": 47.4, "d": 48}, {"h": 35, "a": 57, "b": 66, "c": 46.4, "d": 47}, {"h": 36, "a": 60, "b": 70, "c": 46.4, "d": 47},
   {"h": 36.5, "a": 72, "b": 78, "c": 46.4, "d": 47}, {"h": 37, "a": 74, "b": 79, "c": 45.4, "d": 46}, {"h": 38, "a": 73, "b": 80, "c": 43.4, "d": 44}, {"h": 39, "a": 77, "b": 82, "c": 40.4, "d": 41},
   {"h": 40, "a": 80, "b": 86, "c": 36.4, "d": 37}, {"h": 40.6, "a": 81, "b": 87, "c": 33.4, "d": 34}, {"h": 41, "a": 82, "b": 89, "c": 49.4, "d": 50}, {"h": 42, "a": 88, "b": 94, "c": 63.4, "d": 64},
   {"h": 43, "a": 92, "b": 97, "c": 73.4, "d": 74}, {"h": 44, "a": 94, "b": 99, "c": 79.4, "d": 80}, {"h": 45, "a": 94, "b": 99, "c": 83.4, "d": 84}, {"h": 46, "a": 95, "b": 100, "c": 86.4, "d": 87},
   {"h": 47, "a": 96, "b": 101, "c": 85.4, "d": 86}, {"h": 48, "a": 96, "b": 101, "c": 85.4, "d": 86}]},
  "transform": [{"fold": ["a", "b", "c", "d"], "as": ["serie", "val"]}],
  "mark": {"type": "line", "strokeWidth": 1.6},
  "encoding": {
   "x": {"field": "h", "type": "quantitative", "scale": {"domain": [0, 48], "nice": false, "zero": false},
    "axis": {"values": [0,2,4,6,8,10,12,14,16,18,20,22,24,26,28,30,32,34,36,38,40,42,44,46,48], "labelExpr": "datum.value % 6 == 0 && datum.value < 48 ? ((datum.value % 24) < 10 ? '0' : '') + (datum.value % 24) + ':00:00' : ''", "labelOverlap": false, "labelFlush": false, "grid": false, "title": null, "labelFont": "Liberation Sans", "labelFontSize": 10, "labelColor": "#000", "tickSize": 4, "tickColor": "#808080", "domainColor": "#808080", "labelPadding": 3}},
   "y": {"field": "val", "type": "quantitative", "scale": {"domain": [20, 110], "nice": false, "zero": false},
    "axis": {"values": [20,30,40,50,60,70,80,90,100,110], "grid": true, "gridColor": "#c0c0c0", "title": "Umidade Relativa (%)", "labelFont": "Liberation Sans", "labelFontSize": 10, "labelColor": "#000", "tickSize": 4, "tickColor": "#808080", "domainColor": "#808080", "titleFont": "Liberation Sans", "titleFontSize": 10.5, "titleFontWeight": "normal", "titleColor": "#000", "titlePadding": 6}},
   "color": {"field": "serie", "type": "nominal", "scale": {"domain": ["a", "b", "c", "d"], "range": ["#000080", "#ff00ff", "#ffff00", "#33e0e0"]}, "legend": null}}},
 {"width": 412, "height": 77, "data": {"values": [{}]}, "mark": "text", "encoding": {"text": {"value": ""}}},
 {"width": 395, "height": 238,
  "view": {"stroke": "#a0a0a0"},
  "data": {"values": [
   {"h": 0, "alo": 906.8, "ahi": 909.3, "blo": 901.9, "bhi": 904.3, "c": 897.15, "d": 897.0},
   {"h": 1, "alo": 906.6, "ahi": 909.0, "blo": 901.7, "bhi": 904.0, "c": 896.75, "d": 896.6},
   {"h": 2, "alo": 906.5, "ahi": 908.9, "blo": 901.6, "bhi": 903.9, "c": 896.25, "d": 896.1},
   {"h": 3, "alo": 906.4, "ahi": 908.8, "blo": 901.5, "bhi": 903.8, "c": 895.75, "d": 895.6},
   {"h": 4, "alo": 906.6, "ahi": 908.9, "blo": 901.6, "bhi": 903.9, "c": 895.65, "d": 895.5},
   {"h": 5, "alo": 906.8, "ahi": 909.2, "blo": 901.8, "bhi": 904.2, "c": 896.05, "d": 895.9},
   {"h": 6, "alo": 907.0, "ahi": 909.6, "blo": 902.0, "bhi": 904.6, "c": 896.65, "d": 896.5},
   {"h": 7, "alo": 907.4, "ahi": 909.9, "blo": 902.4, "bhi": 904.9, "c": 897.45, "d": 897.3},
   {"h": 8, "alo": 907.5, "ahi": 909.9, "blo": 902.5, "bhi": 904.9, "c": 898.35, "d": 898.2},
   {"h": 9, "alo": 907.2, "ahi": 909.5, "blo": 902.2, "bhi": 904.5, "c": 898.85, "d": 898.7},
   {"h": 10, "alo": 906.8, "ahi": 909.3, "blo": 901.8, "bhi": 904.2, "c": 898.95, "d": 898.8},
   {"h": 11, "alo": 906.2, "ahi": 908.8, "blo": 901.2, "bhi": 903.7, "c": 898.65, "d": 898.5},
   {"h": 12, "alo": 905.5, "ahi": 908.0, "blo": 900.5, "bhi": 903.0, "c": 898.15, "d": 898.0},
   {"h": 13, "alo": 905.3, "ahi": 907.5, "blo": 900.3, "bhi": 902.5, "c": 897.65, "d": 897.5},
   {"h": 14, "alo": 905.3, "ahi": 907.5, "blo": 900.3, "bhi": 902.4, "c": 897.25, "d": 897.1},
   {"h": 15, "alo": 905.3, "ahi": 907.7, "blo": 900.3, "bhi": 902.7, "c": 897.15, "d": 897.0},
   {"h": 16, "alo": 905.6, "ahi": 908.0, "blo": 900.6, "bhi": 903.0, "c": 897.05, "d": 896.9},
   {"h": 17, "alo": 906.0, "ahi": 908.5, "blo": 901.0, "bhi": 903.5, "c": 897.25, "d": 897.1},
   {"h": 18, "alo": 906.5, "ahi": 909.0, "blo": 901.5, "bhi": 904.0, "c": 897.35, "d": 897.2},
   {"h": 19, "alo": 907.0, "ahi": 909.5, "blo": 902.0, "bhi": 904.5, "c": 897.75, "d": 897.6},
   {"h": 20, "alo": 907.6, "ahi": 910.0, "blo": 902.6, "bhi": 905.0, "c": 898.65, "d": 898.5},
   {"h": 21, "alo": 908.2, "ahi": 910.3, "blo": 903.2, "bhi": 905.3, "c": 899.15, "d": 899.0},
   {"h": 22, "alo": 908.3, "ahi": 910.3, "blo": 903.3, "bhi": 905.3, "c": 899.05, "d": 898.9},
   {"h": 23, "alo": 908.3, "ahi": 910.0, "blo": 903.3, "bhi": 905.0, "c": 898.85, "d": 898.7},
   {"h": 24, "alo": 908.2, "ahi": 909.8, "blo": 903.2, "bhi": 904.8, "c": 898.65, "d": 898.5},
   {"h": 25, "alo": 907.9, "ahi": 909.6, "blo": 902.9, "bhi": 904.6, "c": 898.65, "d": 898.5},
   {"h": 26, "alo": 907.5, "ahi": 909.4, "blo": 902.5, "bhi": 904.4, "c": 898.25, "d": 898.1},
   {"h": 27, "alo": 907.1, "ahi": 909.0, "blo": 902.1, "bhi": 904.0, "c": 898.05, "d": 897.9},
   {"h": 28, "alo": 907.0, "ahi": 909.0, "blo": 902.0, "bhi": 904.0, "c": 898.05, "d": 897.9},
   {"h": 29, "alo": 907.4, "ahi": 909.4, "blo": 902.4, "bhi": 904.4, "c": 898.35, "d": 898.2},
   {"h": 30, "alo": 908.0, "ahi": 910.0, "blo": 903.0, "bhi": 905.0, "c": 898.75, "d": 898.6},
   {"h": 31, "alo": 908.6, "ahi": 910.7, "blo": 903.6, "bhi": 905.7, "c": 899.65, "d": 899.5},
   {"h": 32, "alo": 909.0, "ahi": 911.2, "blo": 904.0, "bhi": 906.2, "c": 900.15, "d": 900.0},
   {"h": 33, "alo": 908.8, "ahi": 910.8, "blo": 903.8, "bhi": 905.8, "c": 900.45, "d": 900.3},
   {"h": 34, "alo": 908.2, "ahi": 910.2, "blo": 903.2, "bhi": 905.2, "c": 900.35, "d": 900.2},
   {"h": 35, "alo": 907.8, "ahi": 909.8, "blo": 902.8, "bhi": 904.8, "c": 899.95, "d": 899.8},
   {"h": 36, "alo": 907.5, "ahi": 909.5, "blo": 902.5, "bhi": 904.5, "c": 899.35, "d": 899.2},
   {"h": 37, "alo": 907.3, "ahi": 909.3, "blo": 902.5, "bhi": 904.3, "c": 898.95, "d": 898.8},
   {"h": 38, "alo": 907.3, "ahi": 909.2, "blo": 902.4, "bhi": 904.2, "c": 898.65, "d": 898.5},
   {"h": 39, "alo": 907.5, "ahi": 909.5, "blo": 902.5, "bhi": 904.5, "c": 898.55, "d": 898.4},
   {"h": 40, "alo": 908.4, "ahi": 910.5, "blo": 903.4, "bhi": 905.4, "c": 898.35, "d": 898.2},
   {"h": 41, "alo": 908.9, "ahi": 911.0, "blo": 903.9, "bhi": 905.9, "c": 898.15, "d": 898.0},
   {"h": 42, "alo": 909.4, "ahi": 911.4, "blo": 904.4, "bhi": 906.4, "c": 898.65, "d": 898.5},
   {"h": 43, "alo": 909.7, "ahi": 911.8, "blo": 904.7, "bhi": 906.8, "c": 899.35, "d": 899.2},
   {"h": 44, "alo": 909.8, "ahi": 912.0, "blo": 904.8, "bhi": 907.0, "c": 899.95, "d": 899.8},
   {"h": 45, "alo": 909.8, "ahi": 911.8, "blo": 904.8, "bhi": 906.8, "c": 900.55, "d": 900.4},
   {"h": 46, "alo": 909.7, "ahi": 911.7, "blo": 904.7, "bhi": 906.7, "c": 900.35, "d": 900.2},
   {"h": 47, "alo": 909.8, "ahi": 911.7, "blo": 904.8, "bhi": 906.7, "c": 900.35, "d": 900.2},
   {"h": 48, "alo": 909.8, "ahi": 911.6, "blo": 904.8, "bhi": 906.6, "c": 900.35, "d": 900.2}]},
  "encoding": {
   "x": {"field": "h", "type": "quantitative", "scale": {"domain": [0, 48], "nice": false, "zero": false},
    "axis": {"values": [0,2,4,6,8,10,12,14,16,18,20,22,24,26,28,30,32,34,36,38,40,42,44,46,48], "labelExpr": "datum.value % 6 == 0 && datum.value < 48 ? ((datum.value % 24) < 10 ? '0' : '') + (datum.value % 24) + ':00:00' : ''", "labelOverlap": false, "labelFlush": false, "grid": false, "title": "Hora Local", "labelFont": "Liberation Sans", "labelFontSize": 10, "labelColor": "#000", "tickSize": 4, "tickColor": "#808080", "domainColor": "#808080", "labelPadding": 3, "titleFont": "Liberation Sans", "titleFontSize": 10.5, "titleFontWeight": "normal", "titleColor": "#000", "titlePadding": 12}}},
  "layer": [
   {"mark": {"type": "area", "opacity": 1},
    "encoding": {
     "y": {"field": "alo", "type": "quantitative", "scale": {"domain": [892, 912], "nice": false, "zero": false},
      "axis": {"values": [892,894,896,898,900,902,904,906,908,910,912], "grid": true, "gridColor": "#c0c0c0", "title": "Pressão (hPa)", "labelFont": "Liberation Sans", "labelFontSize": 10, "labelColor": "#000", "tickSize": 4, "tickColor": "#808080", "domainColor": "#808080", "titleFont": "Liberation Sans", "titleFontSize": 10.5, "titleFontWeight": "normal", "titleColor": "#000", "titlePadding": 6}},
     "y2": {"field": "ahi"},
     "color": {"datum": "M2B_S/Correção", "type": "nominal", "scale": {"domain": ["M2B_S/Correção", "M2B_Corrigido", "M2T_S/Correção", "M2T_Corrigido"], "range": ["#0a0a78", "#ff00ff", "#ffff00", "#33e0e0"]},
      "legend": {"orient": "none", "legendX": 70, "legendY": 279, "direction": "horizontal", "columns": 2, "gridAlign": "all", "title": null, "symbolType": "stroke", "symbolSize": 480, "symbolStrokeWidth": 2, "labelFont": "Liberation Sans", "labelFontSize": 10, "labelColor": "#000", "columnPadding": 32, "rowPadding": -6,
       "encode": {"symbols": {"update": {"stroke": {"scale": "color", "field": "value"}, "fill": {"value": "transparent"}, "strokeWidth": {"value": 2}}}}}}}},
   {"mark": {"type": "area", "opacity": 1},
    "encoding": {
     "y": {"field": "blo", "type": "quantitative", "scale": {"domain": [892, 912], "nice": false, "zero": false},
      "axis": {"values": [892,894,896,898,900,902,904,906,908,910,912], "grid": true, "gridColor": "#c0c0c0", "title": "Pressão (hPa)", "labelFont": "Liberation Sans", "labelFontSize": 10, "labelColor": "#000", "tickSize": 4, "tickColor": "#808080", "domainColor": "#808080", "titleFont": "Liberation Sans", "titleFontSize": 10.5, "titleFontWeight": "normal", "titleColor": "#000", "titlePadding": 6}},
     "y2": {"field": "bhi"},
     "color": {"datum": "M2B_Corrigido", "type": "nominal"}}},
   {"mark": {"type": "line", "strokeWidth": 2},
    "encoding": {
     "y": {"field": "c", "type": "quantitative", "scale": {"domain": [892, 912], "nice": false, "zero": false},
      "axis": {"values": [892,894,896,898,900,902,904,906,908,910,912], "grid": true, "gridColor": "#c0c0c0", "title": "Pressão (hPa)", "labelFont": "Liberation Sans", "labelFontSize": 10, "labelColor": "#000", "tickSize": 4, "tickColor": "#808080", "domainColor": "#808080", "titleFont": "Liberation Sans", "titleFontSize": 10.5, "titleFontWeight": "normal", "titleColor": "#000", "titlePadding": 6}},
     "color": {"datum": "M2T_S/Correção", "type": "nominal"}}},
   {"mark": {"type": "line", "strokeWidth": 2},
    "encoding": {
     "y": {"field": "d", "type": "quantitative", "scale": {"domain": [892, 912], "nice": false, "zero": false},
      "axis": {"values": [892,894,896,898,900,902,904,906,908,910,912], "grid": true, "gridColor": "#c0c0c0", "title": "Pressão (hPa)", "labelFont": "Liberation Sans", "labelFontSize": 10, "labelColor": "#000", "tickSize": 4, "tickColor": "#808080", "domainColor": "#808080", "titleFont": "Liberation Sans", "titleFontSize": 10.5, "titleFontWeight": "normal", "titleColor": "#000", "titlePadding": 6}},
     "color": {"datum": "M2T_Corrigido", "type": "nominal"}}}]},
 {"width": 412, "height": 426,
  "data": {"values": [
   {"s": "c", "line": 0, "pos": 0.521, "text": "Fig. 20. Dados de campo referente aos dias 13/04/10 e 14/04/2010"},
   {"s": "t", "line": 1.95, "pos": 0.048, "text": "4. DISCUSSÃO"},
   {"s": "p", "line": 3.49, "pos": 0.048, "text": "As recomendações da OMM e os requisitos metrológicos"},
   {"s": "p", "line": 4.49, "pos": 0.048, "text": "para que o resultado da calibração de cada sistema de"},
   {"s": "p", "line": 5.49, "pos": 0.048, "text": "observação ou de monitoramento não deva ser extensivo a"},
   {"s": "p", "line": 6.49, "pos": 0.048, "text": "outro, mesmo que similar, são devidamente comprovados"},
   {"s": "p", "line": 7.49, "pos": 0.048, "text": "nestes experimentos."},
   {"s": "p", "line": 9.02, "pos": 0.048, "text": "Considerando as correções como erros sistemáticos e"},
   {"s": "p", "line": 10.02, "pos": 0.048, "text": "corrigindo as medidas de campo com os valores reportados"},
   {"s": "p", "line": 11.02, "pos": 0.048, "text": "nos Certificados de Calibração, temos as incertezas"},
   {"s": "p", "line": 12.02, "pos": 0.048, "text": "compatíveis com as especificações dos fabricantes dos"},
   {"s": "p", "line": 13.02, "pos": 0.048, "text": "sensores. Estatisticamente as correções podem ser realizadas"},
   {"s": "p", "line": 14.02, "pos": 0.048, "text": "através das interpolações dos dados ou outra metodologia,"},
   {"s": "p", "line": 15.02, "pos": 0.048, "text": "porém as incertezas expandidas de medição, U, declaradas"}]},
  "encoding": {
   "x": {"field": "pos", "type": "quantitative", "scale": {"domain": [0.1417, 1], "nice": false, "zero": false}, "axis": null},
   "y": {"field": "line", "type": "quantitative", "scale": {"domain": [-4.186, 15.628], "reverse": true, "nice": false, "zero": false}, "axis": null},
   "text": {"field": "text"}},
  "layer": [
   {"transform": [{"filter": "datum.s == 'c'"}], "mark": {"type": "text", "font": "Liberation Serif", "fontSize": 15, "align": "center", "baseline": "middle", "color": "#000"}},
   {"transform": [{"filter": "datum.s == 't'"}], "mark": {"type": "text", "font": "Liberation Serif", "fontSize": 19, "fontWeight": "bold", "align": "left", "baseline": "middle", "color": "#000"}},
   {"transform": [{"filter": "datum.s == 'p'"}], "mark": {"type": "text", "font": "Liberation Serif", "fontSize": 18.8, "align": "left", "baseline": "middle", "color": "#000"}}]}
], "spacing": 0, "bounds": "flush",
 "resolve": {"scale": {"color": "independent", "fill": "independent", "stroke": "independent", "shape": "independent", "strokeWidth": "independent", "size": "independent"}, "legend": {"color": "independent", "fill": "independent", "stroke": "independent", "shape": "independent", "strokeWidth": "independent", "size": "independent"}}}
]
}
